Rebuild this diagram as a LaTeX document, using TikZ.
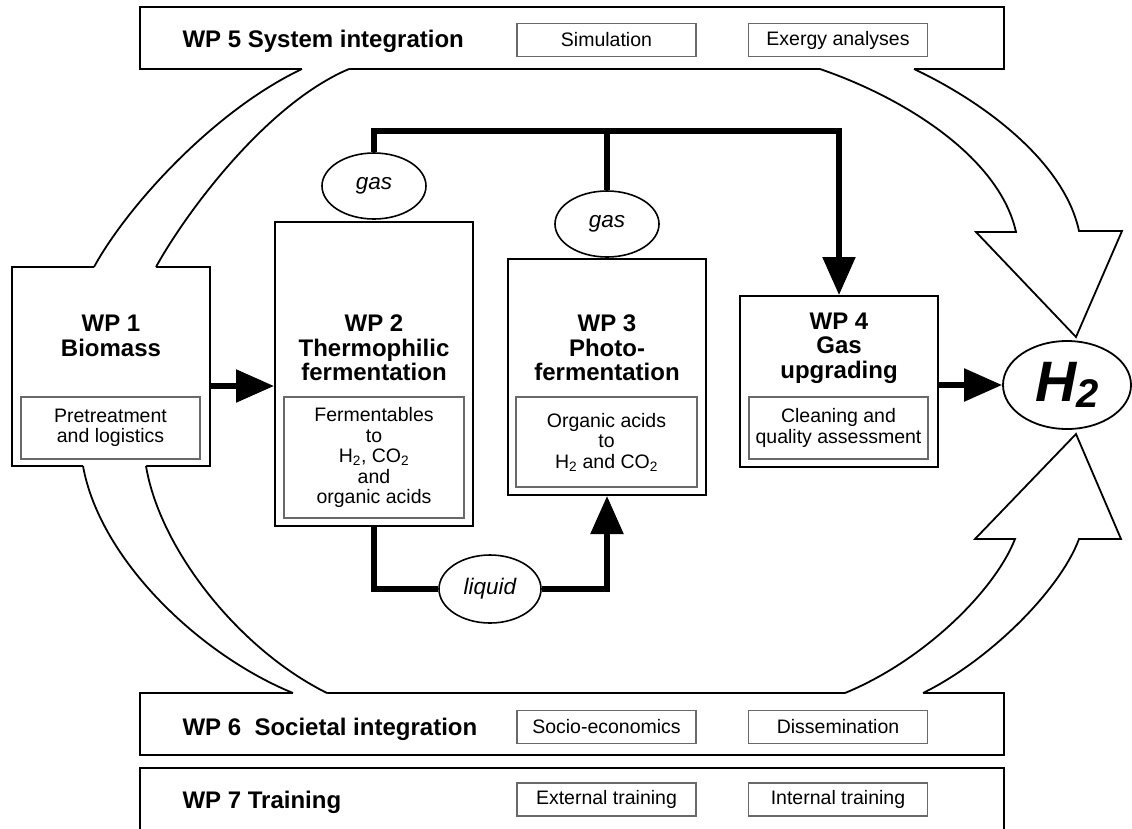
\documentclass[tikz,border=0pt]{standalone}
\usepackage{fontspec}
\setmainfont{Liberation Sans}
\usetikzlibrary{arrows.meta,shapes.geometric}
\definecolor{linegray}{RGB}{105,105,105}

\begin{document}
\begin{tikzpicture}[x=1pt,y=-1pt,
  wpbar/.style={draw,line width=2pt,fill=white,minimum width=864,minimum height=62},
  wpbox/.style={draw,line width=2pt,fill=white,minimum width=198},
  inbox/.style={draw=linegray,line width=1.5pt,align=center,inner sep=0pt,
    font=\fontsize{19.5}{20.5}\selectfont},
  subbox/.style={inbox,minimum width=179,minimum height=33},
  wptitle/.style={align=center,font=\fontsize{24}{24.5}\selectfont\bfseries},
  flowtag/.style={draw,ellipse,line width=1.6pt,fill=white,inner sep=0pt,
    minimum width=104,minimum height=66,font=\fontsize{22.5}{22.5}\selectfont\itshape},
  flow/.style={line width=5.5pt},
  bigtip/.style={-{Triangle[length=38pt,width=32pt]}},
  band/.style={line width=1.8pt}]
  \clip (0,0) rectangle (1132,828);
  \fill[white] (0,0) rectangle (1132,828);
  % work package bars
  \node[wpbar] (wp5) at (572,38) {};
  \node[wpbar] (wp6) at (572,724) {};
  \node[wpbar,minimum height=80] (wp7) at (572,808) {};
  \node[wptitle,anchor=west] at (179,41) {WP 5 System integration};
  \node[wptitle,anchor=west] at (179,729) {WP 6\ \ Societal integration};
  \node[wptitle,anchor=west] at (179,802) {WP 7 Training};
  \foreach \y/\a/\b [count=\i] in {40/Simulation/Exergy analyses,
      727/Socio-economics/Dissemination,799.5/External training/Internal training}{
    \node[subbox] (sub\i-l) at (606.5,\y) {\a};
    \node[subbox] (sub\i-r) at (838,\y) {\b};
  }
  % process boxes
  \node[wpbox,minimum height=199] (wp1) at (111,366.5) {};
  \node[wpbox,minimum height=304] (wp2) at (374,374) {};
  \node[wpbox,minimum height=236] (wp3) at (607,377) {};
  \node[wpbox,minimum height=171] (wp4) at (839,381.5) {};
  \node[wptitle] at (111,336) {WP 1\\Biomass};
  \node[wptitle] at (374,348) {WP 2\\Thermophilic\\fermentation};
  \node[wptitle] at (607,348) {WP 3\\Photo-\\fermentation};
  \node[wptitle] at (839,348) {WP 4\\Gas\\upgrading};
  \node[inbox,minimum width=179,minimum height=62] (wp1in) at (110.5,428)
    {Pretreatment\\and logistics};
  \node[inbox,minimum width=180,minimum height=121] (wp2in) at (374,457.5)
    {Fermentables\\to\\H\textsubscript{2}, CO\textsubscript{2}\\and\\organic acids};
  \node[inbox,minimum width=181,minimum height=90] (wp3in) at (606.5,442)
    {Organic acids\\to\\H\textsubscript{2} and CO\textsubscript{2}};
  \node[inbox,minimum width=179,minimum height=62] (wp4in) at (838.5,428)
    {Cleaning and\\quality assessment};
  % open bands into the bars
  \fill[white] (302,66) -- (302,69) .. controls (215,110) and (128,205) .. (94,267)
    -- (94,270) -- (156,270) -- (156,267) .. controls (185,214) and (266,104) .. (349,69)
    -- (349,66) -- cycle;
  \draw[band] (302,69) .. controls (215,110) and (128,205) .. (94,267);
  \draw[band] (349,69) .. controls (266,104) and (185,214) .. (156,267);
  \fill[white] (83,463) -- (83,466) .. controls (100,560) and (200,655) .. (293,693)
    -- (293,696) -- (327,696) -- (327,693) .. controls (240,650) and (160,550) .. (146,466)
    -- (146,463) -- cycle;
  \draw[band] (83,466) .. controls (100,560) and (200,655) .. (293,693);
  \draw[band] (146,466) .. controls (160,550) and (240,650) .. (327,693);
  % big arrows towards H2
  \fill[white] (820,66) -- (820,69) .. controls (910,100) and (1000,160) .. (1016,232)
    -- (976,232) -- (1076,337) -- (1122,231) -- (1079,231)
    .. controls (1065,165) and (990,105) .. (914,69) -- (914,66) -- cycle;
  \draw[band] (820,69) .. controls (910,100) and (1000,160) .. (1016,232)
    -- (976,232) -- (1076,337) -- (1122,231) -- (1079,231)
    .. controls (1065,165) and (990,105) .. (914,69);
  \fill[white] (845,696) -- (845,693) .. controls (925,660) and (995,590) .. (1015,539)
    -- (975,539) -- (1076,434) -- (1121,539) -- (1079,539)
    .. controls (1060,590) and (990,660) .. (923,693) -- (923,696) -- cycle;
  \draw[band] (845,693) .. controls (925,660) and (995,590) .. (1015,539)
    -- (975,539) -- (1076,434) -- (1121,539) -- (1079,539)
    .. controls (1060,590) and (990,660) .. (923,693);
  % gas, liquid and product
  \node[flowtag] (gas1) at (374,186) {gas};
  \node[flowtag] (gas2) at (607,224) {gas};
  \node[flowtag,minimum width=102,minimum height=68] (liquid) at (490,589) {liquid};
  \node[draw,ellipse,line width=1.8pt,fill=white,inner sep=0pt,
    minimum width=128,minimum height=88] (h2) at (1067,385)
    {\fontsize{57}{57}\selectfont\bfseries\itshape H\raisebox{-6pt}{\fontsize{40}{40}\selectfont 2}};
  % flows
  \coordinate (split) at (839,131);
  \coordinate (feed) at (0,386);
  \draw[flow,bigtip] (gas1.north) |- (split) -- (wp4.north);
  \draw[flow] (gas2.north) -- (gas2.north |- split);
  \draw[flow,bigtip] (wp1.east |- feed) -- (wp2.west |- feed);
  \draw[flow,bigtip] (wp4.east |- h2) -- (h2.west);
  \draw[flow] (wp2.south) |- (liquid.west);
  \draw[flow,bigtip] (liquid.east) -| (wp3.south);
\end{tikzpicture}
\end{document}
